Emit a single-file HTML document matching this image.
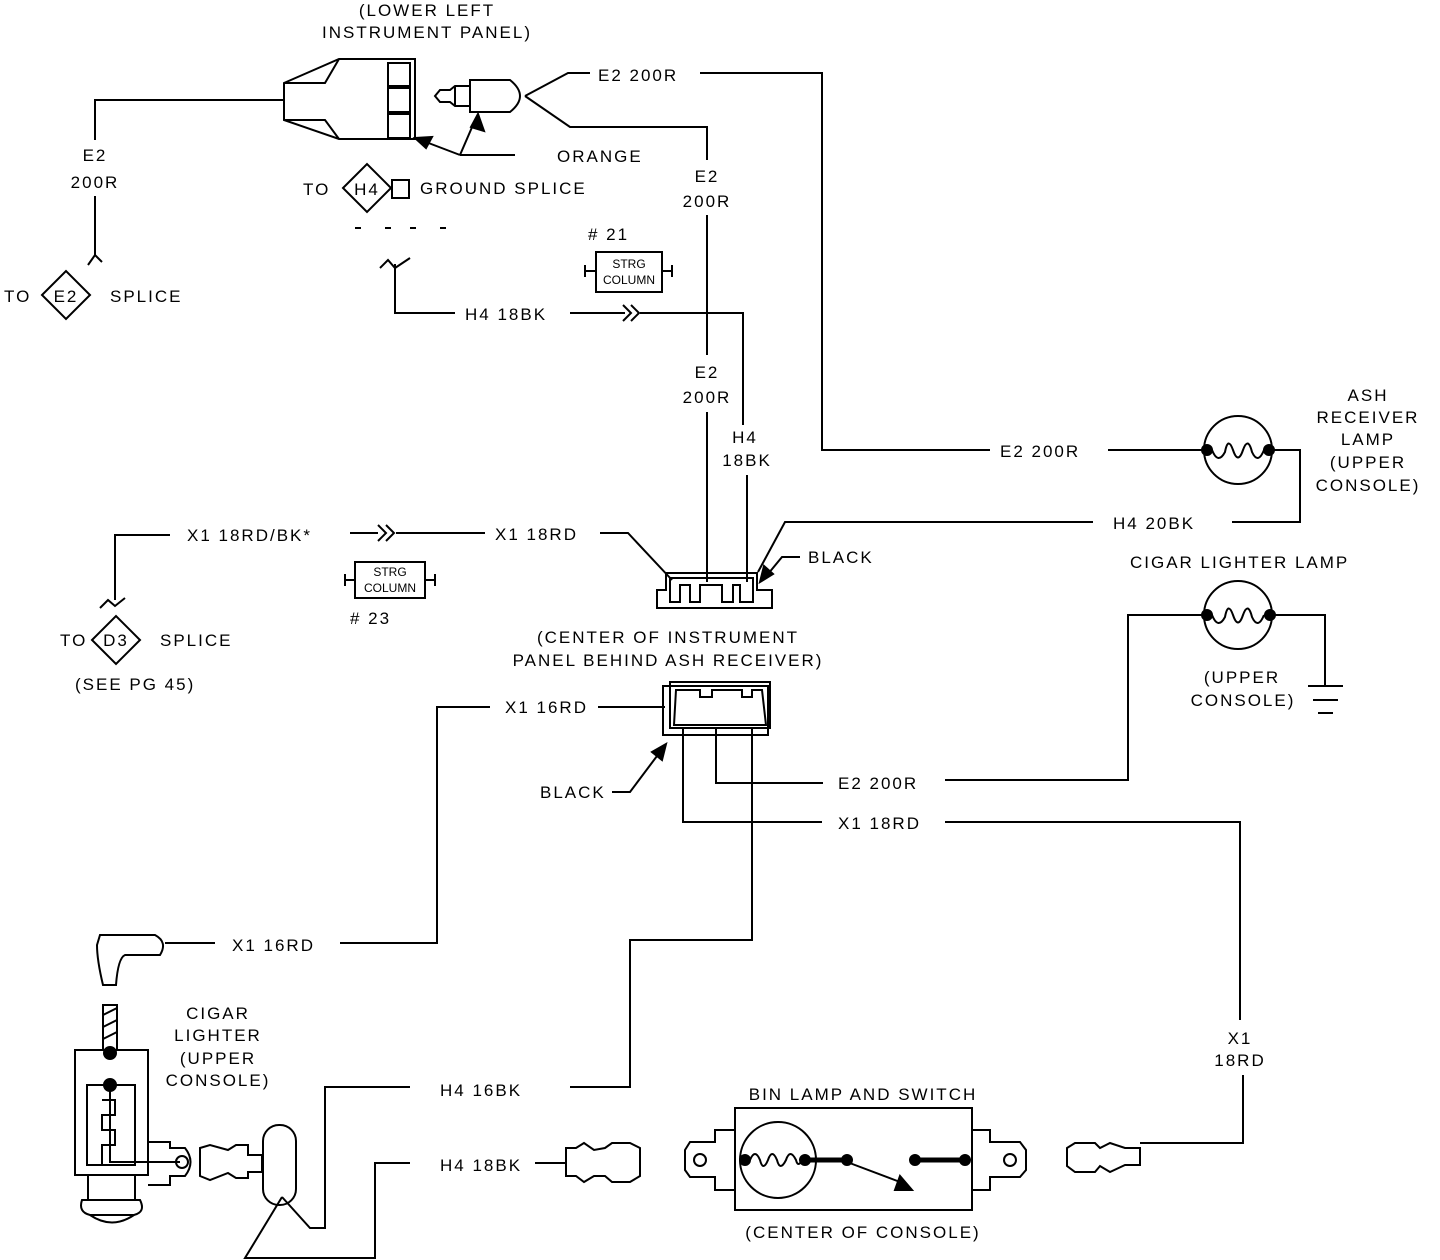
<!DOCTYPE html>
<html><head><style>
html,body{margin:0;padding:0;background:#fff;}
svg{display:block}
text{font-family:"Liberation Sans",sans-serif;font-size:17px;letter-spacing:2px;fill:#000;}
.s{font-size:12px;letter-spacing:0}
</style></head><body>
<svg width="1440" height="1260" viewBox="0 0 1440 1260" xmlns="http://www.w3.org/2000/svg" fill="none" stroke="#000" stroke-width="2">
<g stroke="none">
<text x="427" y="16" text-anchor="middle">(LOWER LEFT</text>
<text x="427" y="38" text-anchor="middle">INSTRUMENT PANEL)</text>
<text x="95" y="161" text-anchor="middle">E2</text>
<text x="95" y="188" text-anchor="middle">200R</text>
<text x="4" y="302">TO</text>
<text x="66" y="302" text-anchor="middle">E2</text>
<text x="110" y="302">SPLICE</text>
<text x="598" y="81">E2 200R</text>
<text x="557" y="162">ORANGE</text>
<text x="303" y="195">TO</text>
<text x="367" y="195" text-anchor="middle">H4</text>
<text x="420" y="194">GROUND SPLICE</text>
<text x="707" y="182" text-anchor="middle">E2</text>
<text x="707" y="207" text-anchor="middle">200R</text>
<text x="588" y="240"># 21</text>
<text x="465" y="320">H4 18BK</text>
<text x="707" y="378" text-anchor="middle">E2</text>
<text x="707" y="403" text-anchor="middle">200R</text>
<text x="745" y="443" text-anchor="middle">H4</text>
<text x="747" y="466" text-anchor="middle">18BK</text>
<text x="1000" y="457">E2 200R</text>
<text x="1368" y="401" text-anchor="middle">ASH</text>
<text x="1368" y="423" text-anchor="middle">RECEIVER</text>
<text x="1368" y="445" text-anchor="middle">LAMP</text>
<text x="1368" y="468" text-anchor="middle">(UPPER</text>
<text x="1368" y="491" text-anchor="middle">CONSOLE)</text>
<text x="1113" y="529">H4 20BK</text>
<text x="187" y="541">X1 18RD/BK*</text>
<text x="495" y="540">X1 18RD</text>
<text x="808" y="563">BLACK</text>
<text x="1130" y="568">CIGAR LIGHTER LAMP</text>
<text x="350" y="624"># 23</text>
<text x="60" y="646">TO</text>
<text x="116" y="646" text-anchor="middle">D3</text>
<text x="160" y="646">SPLICE</text>
<text x="75" y="690">(SEE PG 45)</text>
<text x="668" y="643" text-anchor="middle">(CENTER OF INSTRUMENT</text>
<text x="668" y="666" text-anchor="middle">PANEL BEHIND ASH RECEIVER)</text>
<text x="1242" y="683" text-anchor="middle">(UPPER</text>
<text x="1243" y="706" text-anchor="middle">CONSOLE)</text>
<text x="505" y="713">X1 16RD</text>
<text x="838" y="789">E2 200R</text>
<text x="540" y="798">BLACK</text>
<text x="838" y="829">X1 18RD</text>
<text x="232" y="951">X1 16RD</text>
<text x="218" y="1019" text-anchor="middle">CIGAR</text>
<text x="218" y="1041" text-anchor="middle">LIGHTER</text>
<text x="218" y="1064" text-anchor="middle">(UPPER</text>
<text x="218" y="1086" text-anchor="middle">CONSOLE)</text>
<text x="1240" y="1044" text-anchor="middle">X1</text>
<text x="1240" y="1066" text-anchor="middle">18RD</text>
<text x="440" y="1096">H4 16BK</text>
<text x="863" y="1100" text-anchor="middle">BIN LAMP AND SWITCH</text>
<text x="440" y="1171">H4 18BK</text>
<text x="863" y="1238" text-anchor="middle">(CENTER OF CONSOLE)</text>
<text x="629" y="268" text-anchor="middle" class="s">STRG</text>
<text x="629" y="284" text-anchor="middle" class="s">COLUMN</text>
<text x="390" y="576" text-anchor="middle" class="s">STRG</text>
<text x="390" y="592" text-anchor="middle" class="s">COLUMN</text>
</g>
<!-- top left connector -->
<path d="M284 83 L339 59 L415 59 L415 139 L339 139 L284 120 Z"/>
<path d="M284 83 L325 83 L339 59 M284 120 L325 120 L339 139"/>
<rect x="388" y="63" width="22" height="23"/><rect x="388" y="88" width="22" height="24"/><rect x="388" y="114" width="22" height="24"/>
<!-- male plug -->
<path d="M470 80 L510 80 Q530 96 510 112 L470 112 Z"/>
<path d="M470 86 L455 86 L450 90 L440 90 L435 96 L440 102 L450 102 L455 106 L470 106 M455 86 L455 106"/>
<!-- wires -->
<polyline points="284,100 95,100 95,140"/>
<polyline points="95,196 95,255"/>
<path d="M88 265 L95 255 L102 262"/>
<path d="M42 295 L66 271 L90 295 L66 319 Z"/>
<polyline points="525,96 568,73 590,73"/>
<polyline points="700,73 822,73 822,450 990,450"/>
<polyline points="1108,450 1205,450"/>
<polyline points="525,96 570,127 707,127 707,160"/>
<line x1="707" y1="215" x2="707" y2="355"/>
<line x1="707" y1="412" x2="707" y2="582"/>
<path d="M460 155 L418 139 M460 155 L476 118 M460 155 L515 155"/>
<path d="M415 138 L432 137 L426 148 Z M478 114 L484 131 L471 127 Z" fill="#000"/>
<path d="M343 188 L367 164 L391 188 L367 212 Z"/>
<rect x="392" y="180" width="17" height="18"/>
<path d="M355 228 h6 M385 228 h6 M410 228 h6 M440 228 h6"/>
<path d="M380 268 L388 260 L395 268 L410 258"/>
<polyline points="395,264 395,313 455,313"/>
<polyline points="570,313 625,313"/>
<path d="M623 305 L631 313 L623 321 M631 305 L639 313 L631 321"/>
<polyline points="640,313 743,313 743,425"/>
<line x1="747" y1="475" x2="747" y2="582"/>
<rect x="596" y="252" width="66" height="40"/>
<path d="M585 265 v12 M585 271 h11 M662 271 h10 M672 265 v12"/>
<!-- ash lamp -->
<circle cx="1238" cy="450" r="34"/>
<circle cx="1207" cy="450" r="5" fill="#000"/><circle cx="1269" cy="450" r="5" fill="#000"/>
<path d="M1212 450 Q1218 465 1225 452 Q1228 436 1233 450 Q1238 465 1243 450 Q1248 436 1252 452 Q1258 465 1264 450"/>
<polyline points="1274,450 1300,450 1300,522 1232,522"/>
<polyline points="1093,522 785,522 758,572"/>
<polyline points="873,557 873,557"/>
<polyline points="800,557 782,557 768,574"/>
<path d="M760 582 L764 566 L773 574 Z" fill="#000"/>
<!-- x1 18rd/bk -->
<polyline points="170,535 115,535 115,600"/>
<path d="M100 608 L108 600 L115 606 L125 598"/>
<path d="M92 640 L116 616 L140 640 L116 664 Z"/>
<line x1="350" y1="533" x2="378" y2="533"/>
<path d="M378 525 L386 533 L378 541 M386 525 L394 533 L386 541"/>
<polyline points="396,533 485,533"/>
<polyline points="600,533 628,533 672,580"/>
<rect x="355" y="562" width="70" height="36"/>
<path d="M345 574 v12 M345 580 h10 M425 580 h10 M435 574 v12"/>
<!-- top center connector -->
<path d="M666 573 L757 573 L757 590 L772 590 L772 608 L657 608 L657 590 L666 590 Z"/>
<path d="M670 578 L753 578 L753 602 L740 602 L740 585 L733 585 L733 602 L722 602 L722 585 L700 585 L700 602 L690 602 L690 585 L680 585 L680 602 L670 602 Z"/>
<!-- bottom center connector -->
<path d="M663 686 L663 735 L768 735 L768 686 Z"/>
<path d="M670 682 L770 682 L770 728 L670 728 Z"/>
<path d="M676 690 L700 690 L700 697 L712 697 L712 690 L742 690 L742 697 L752 697 L752 690 L762 690 L766 725 L674 725 Z"/>
<polyline points="598,707 665,707"/>
<polyline points="490,707 437,707 437,943 340,943"/>
<polyline points="165,943 215,943"/>
<polyline points="683,728 683,822 822,822"/>
<polyline points="716,728 716,783 823,783"/>
<polyline points="752,728 752,940 630,940 630,1087 570,1087"/>
<polyline points="945,780 1128,780 1128,615 1205,615"/>
<polyline points="945,822 1240,822 1240,1020"/>
<polyline points="1243,1075 1243,1143 1140,1143"/>
<polyline points="612,792 630,792 660,752"/>
<path d="M666 744 L662 760 L652 752 Z" fill="#000"/>
<!-- cigar lamp -->
<circle cx="1238" cy="615" r="34"/>
<circle cx="1207" cy="615" r="5" fill="#000"/><circle cx="1270" cy="615" r="5" fill="#000"/>
<path d="M1212 615 Q1218 630 1225 617 Q1228 601 1233 615 Q1238 630 1243 615 Q1248 601 1252 617 Q1258 630 1264 615"/>
<polyline points="1275,615 1325,615 1325,686"/>
<path d="M1308 686 h35 M1313 700 h25 M1318 713 h15"/>
<!-- knob -->
<path d="M100 935 L155 935 Q168 942 160 955 L125 955 Q118 958 116 985 L103 985 Q97 960 97 945 Z"/>
<!-- lighter -->
<rect x="103" y="1005" width="14" height="45"/>
<path d="M103 1015 l14 -7 M103 1027 l14 -7 M103 1039 l14 -7"/>
<rect x="75" y="1050" width="73" height="125"/>
<rect x="87" y="1085" width="48" height="80"/>
<path d="M110 1083 L110 1162 L180 1162"/>
<path d="M102 1100 h13 v15 h-13 v15 h13 v15 h-13 v20"/>
<circle cx="110" cy="1053" r="6" fill="#000"/><circle cx="110" cy="1085" r="6" fill="#000"/>
<path d="M148 1142 L170 1142 L170 1148 L185 1148 Q196 1162 185 1176 L170 1176 L170 1185 L148 1185"/>
<circle cx="182" cy="1162" r="6"/>
<path d="M88 1175 L88 1200 L135 1200 L135 1175"/>
<path d="M82 1200 Q78 1212 90 1215 L134 1215 Q146 1212 140 1200 Z M90 1215 Q112 1230 134 1215"/>
<!-- connector near lighter -->
<path d="M200 1148 L210 1145 L228 1150 L236 1145 L248 1145 L248 1155 L262 1155 L262 1172 L248 1172 L248 1178 L236 1178 L228 1173 L210 1180 L200 1176 Z"/>
<rect x="263" y="1125" width="33" height="80" rx="16"/>
<polyline points="282,1197 310,1228 325,1228 325,1087 410,1087"/>
<polyline points="282,1197 245,1258 375,1258 375,1163 410,1163"/>
<line x1="535" y1="1163" x2="566" y2="1163"/>
<path d="M566 1148 L576 1148 L584 1143 L594 1150 L605 1148 L612 1143 L630 1143 L640 1148 L640 1176 L630 1182 L612 1182 L605 1176 L594 1176 L584 1182 L576 1176 L566 1176 Z"/>
<!-- bin lamp -->
<rect x="735" y="1108" width="237" height="102"/>
<path d="M735 1130 L715 1130 L715 1142 L690 1142 L685 1150 L685 1170 L690 1177 L715 1177 L715 1190 L735 1190"/>
<circle cx="700" cy="1160" r="6"/>
<circle cx="778" cy="1160" r="38"/>
<circle cx="745" cy="1160" r="5" fill="#000"/><circle cx="805" cy="1160" r="5" fill="#000"/>
<path d="M750 1160 Q755 1148 760 1160 Q763 1172 768 1160 Q772 1148 777 1160 Q780 1172 786 1160 Q790 1148 796 1160 Q798 1168 802 1160"/>
<path d="M805 1160 L847 1160 M915 1160 L965 1160" stroke-width="5"/>
<circle cx="847" cy="1160" r="5" fill="#000"/><circle cx="915" cy="1160" r="5" fill="#000"/><circle cx="965" cy="1160" r="5" fill="#000"/>
<line x1="847" y1="1162" x2="900" y2="1182"/>
<path d="M912 1190 L895 1190 L900 1176 Z" fill="#000"/>
<path d="M972 1130 L990 1130 L990 1142 L1020 1142 L1026 1150 L1026 1170 L1020 1177 L990 1177 L990 1190 L972 1190"/>
<circle cx="1010" cy="1160" r="6"/>
<path d="M1067 1148 L1075 1143 L1095 1143 L1100 1148 L1110 1143 L1125 1148 L1140 1148 L1140 1165 L1125 1165 L1110 1172 L1100 1166 L1095 1172 L1075 1172 L1067 1166 Z"/>
</svg>
</body></html>
